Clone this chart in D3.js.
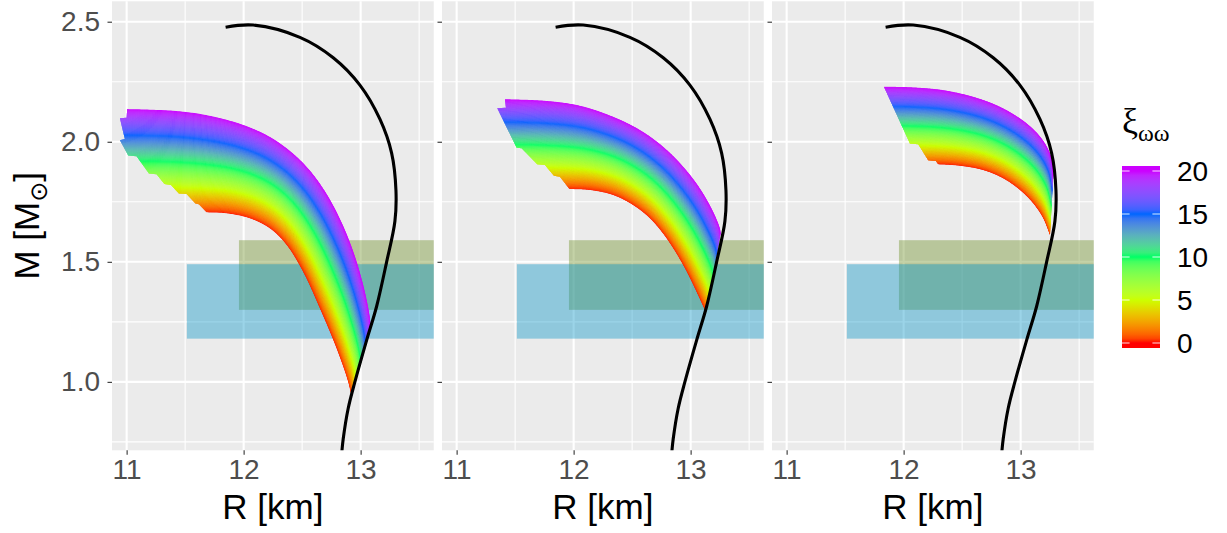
<!DOCTYPE html>
<html>
<head>
<meta charset="utf-8">
<style>
body { margin: 0; background: #fff; }
svg { display: block; }
</style>
</head>
<body>
<svg width="1227" height="533" font-family="'Liberation Sans', Arial, Helvetica, sans-serif"></svg>
<script src="https://d3js.org/d3.v7.min.js"></script>
<script>

// ---- data ----
var rTicks = [11, 12, 13], rMinor = [11.5, 12.5, 13.5];
var mTicks = [1.0, 1.5, 2.0, 2.5], mMinor = [0.75, 1.25, 1.75, 2.25];
var rLimits = [11, 13.5], mLimits = [0.8, 2.5];

// black M-R curve (same in every panel)
var eosR = [11.846, 12.082, 12.481, 12.766, 12.994, 13.165, 13.265, 13.302, 13.293, 13.222, 13.137, 13.051, 12.951, 12.894, 12.851, 12.838];
var eosM = [2.477, 2.486, 2.435, 2.350, 2.236, 2.094, 1.953, 1.797, 1.669, 1.499, 1.315, 1.173, 1.000, 0.890, 0.762, 0.700];

// constraint boxes: [R min, M min, M max], R max = Inf
var boxR = [11.96, 11.515];
var boxM = [[1.30, 1.59], [1.18, 1.49]];
var boxFill = ["#6B8E23", "#0593C5"];

// rainbow bands: upper edge (xi = 20), lower edge (xi = 0), stepped left edge
var upper1 = [[11.005,2.136],[11.427,2.128],[11.712,2.108],[11.997,2.070],[12.225,2.020],[12.413,1.955],[12.567,1.880],[12.704,1.787],[12.824,1.678],[12.926,1.558],[13.011,1.424],[13.071,1.291],[13.088,1.224]];
var lower1 = [[11.684,1.706],[11.855,1.702],[12.054,1.681],[12.225,1.639],[12.368,1.570],[12.509,1.458],[12.652,1.306],[12.795,1.139],[12.894,1.000],[12.923,0.9375]];
var steps1 = [[11.005,2.136],[11.0,2.100],[10.943,2.0975],[10.985,2.011],[10.943,2.006],[11.014,1.943],[11.085,1.940],[11.191,1.868],[11.256,1.865],[11.323,1.824],[11.379,1.820],[11.447,1.785],[11.513,1.782],[11.588,1.743],[11.618,1.740],[11.684,1.706]];

var upper2 = [[11.413,2.177],[11.769,2.170],[12.054,2.150],[12.338,2.104],[12.567,2.049],[12.766,1.979],[12.937,1.896],[13.079,1.806],[13.193,1.708],[13.250,1.639],[13.256,1.618]];
var lower2 = [[11.968,1.803],[12.139,1.799],[12.338,1.778],[12.509,1.736],[12.652,1.681],[12.795,1.5975],[12.937,1.486],[13.051,1.375],[13.131,1.289]];
var steps2 = [[11.413,2.177],[11.422,2.142],[11.348,2.140],[11.513,1.975],[11.556,1.973],[11.689,1.906],[11.755,1.903],[11.832,1.858],[11.883,1.854],[11.963,1.804],[11.968,1.803]];

var upper3 = [[11.832,2.229],[12.054,2.227],[12.338,2.215],[12.624,2.183],[12.851,2.139],[13.051,2.077],[13.179,2.014],[13.250,1.952],[13.274,1.903],[13.279,1.861]];
var lower3 = [[12.296,1.906],[12.481,1.900],[12.680,1.882],[12.851,1.8475],[12.994,1.799],[13.108,1.743],[13.194,1.681],[13.251,1.611]];
var steps3 = [[11.832,2.229],[12.054,1.993],[12.125,1.990],[12.210,1.923],[12.276,1.920],[12.296,1.906]];

var xiBreaks = [0, 5, 10, 15, 20];
var xiColors = ["#FF0000", "#CCFF00", "#00FF66", "#0066FF", "#CC00FF"];

// ---- layout ----
var svg = d3.select("svg");
var panelLeft = [112, 442, 772], panelW = 321.75, panelTop = 1.3, panelBottom = 450.3;
var tickFont = 28, titleFont = 35;

var rPad = (rLimits[1] - rLimits[0]) * 0.05, mPad = (mLimits[1] - mLimits[0]) * 0.05;
var y = d3.scaleLinear().domain([mLimits[0] - mPad, mLimits[1] + mPad]).range([panelBottom, panelTop]);

var colour = d3.scaleLinear().domain(xiBreaks).range(xiColors).interpolate(d3.interpolateLab).clamp(true);

var smooth = d3.line().curve(d3.curveCatmullRom.alpha(0.5));

function sample(g, pts, n) {
  var p = g.append("path").attr("d", smooth(pts)).attr("fill", "none");
  var node = p.node(), len = node.getTotalLength();
  var out = d3.range(n + 1).map(function(i) {
    var q = node.getPointAtLength(len * i / n);
    return [q.x, q.y];
  });
  p.remove();
  return out;
}

var bands = [[upper1, lower1, steps1], [upper2, lower2, steps2], [upper3, lower3, steps3]];
var eos = eosR.map(function(r, i) { return [r, eosM[i]]; });

bands.forEach(function(band, i) {
  var x = d3.scaleLinear().domain([rLimits[0] - rPad, rLimits[1] + rPad]).range([panelLeft[i], panelLeft[i] + panelW]);
  var right = panelLeft[i] + panelW;
  var g = svg.append("g");

  svg.append("clipPath").attr("id", "panel-" + i)
    .append("rect").attr("x", panelLeft[i]).attr("y", panelTop)
    .attr("width", panelW).attr("height", panelBottom - panelTop);

  g.append("rect").attr("x", panelLeft[i]).attr("y", panelTop)
    .attr("width", panelW).attr("height", panelBottom - panelTop).attr("fill", "#EBEBEB");

  g.selectAll(".vmin").data(rMinor).join("line").attr("class", "vmin")
    .attr("x1", x).attr("x2", x).attr("y1", panelTop).attr("y2", panelBottom)
    .attr("stroke", "#fff").attr("stroke-width", 1.1);
  g.selectAll(".hmin").data(mMinor).join("line").attr("class", "hmin")
    .attr("y1", y).attr("y2", y).attr("x1", panelLeft[i]).attr("x2", right)
    .attr("stroke", "#fff").attr("stroke-width", 1.1);
  g.selectAll(".vmaj").data(rTicks).join("line").attr("class", "vmaj")
    .attr("x1", x).attr("x2", x).attr("y1", panelTop).attr("y2", panelBottom)
    .attr("stroke", "#fff").attr("stroke-width", 2.1);
  g.selectAll(".hmaj").data(mTicks).join("line").attr("class", "hmaj")
    .attr("y1", y).attr("y2", y).attr("x1", panelLeft[i]).attr("x2", right)
    .attr("stroke", "#fff").attr("stroke-width", 2.1);

  // boxes
  g.selectAll(".box").data(boxR).join("rect").attr("class", "box")
    .attr("x", function(d) { return x(d); })
    .attr("width", function(d) { return right - x(d); })
    .attr("y", function(d, j) { return y(boxM[j][1]); })
    .attr("height", function(d, j) { return y(boxM[j][0]) - y(boxM[j][1]); })
    .attr("fill", function(d, j) { return boxFill[j]; })
    .attr("fill-opacity", 0.4);

  // rainbow band
  var px = function(d) { return [x(d[0]), y(d[1])]; };
  var up = band[0].map(px), lo = band[1].map(px), st = band[2].map(px);
  var x0 = d3.min(st, function(d) { return d[0]; }) - 6;
  var n = 220;
  var U = sample(g, [[x0, up[0][1]]].concat(up), n);
  var L = sample(g, [[x0, lo[0][1]]].concat(lo), n);
  var outline = st.concat(sample(g, lo, n), sample(g, up, n).reverse());
  svg.append("clipPath").attr("id", "band-" + i)
    .append("path").attr("d", "M" + outline.join("L") + "Z");

  var blend = function(f) {
    return U.map(function(u, k) {
      return [L[k][0] + (u[0] - L[k][0]) * f, L[k][1] + (u[1] - L[k][1]) * f];
    });
  };
  var strips = 100;
  g.append("g").attr("clip-path", "url(#band-" + i + ")")
    .selectAll("path").data(d3.range(strips)).join("path")
    .attr("d", function(k) {
      var a = blend(k / strips), b = blend((k + 1) / strips).reverse();
      return "M" + a.concat(b).join("L") + "Z";
    })
    .attr("fill", function(k) { return colour(20 * (k + 0.5) / strips); })
    .attr("stroke", function(k) { return colour(20 * (k + 0.5) / strips); })
    .attr("stroke-width", 0.7);

  // black curve
  g.append("path").attr("clip-path", "url(#panel-" + i + ")")
    .attr("d", d3.line().x(function(d) { return x(d[0]); }).y(function(d) { return y(d[1]); }).curve(d3.curveCatmullRom)(eos))
    .attr("fill", "none").attr("stroke", "#000").attr("stroke-width", 3.1);

  // axes
  var ax = svg.append("g").attr("transform", "translate(0," + panelBottom + ")")
    .call(d3.axisBottom(x).tickValues(rTicks).tickSize(4.5).tickPadding(4.3).tickFormat(d3.format("d")));
  ax.attr("font-size", tickFont).attr("font-family", null);
  ax.select(".domain").remove();
  ax.selectAll("line").attr("stroke", "#333").attr("stroke-width", 1.1);
  ax.selectAll("text").attr("fill", "#4D4D4D");

  var ay = svg.append("g").attr("transform", "translate(" + panelLeft[i] + ",0)")
    .call(d3.axisLeft(y).tickValues(mTicks).tickSize(4.5).tickPadding(7.5)
      .tickFormat(i === 0 ? d3.format(".1f") : function() { return ""; }));
  ay.attr("font-size", tickFont).attr("font-family", null);
  ay.select(".domain").remove();
  ay.selectAll("line").attr("stroke", "#333").attr("stroke-width", 1.1);
  ay.selectAll("text").attr("fill", "#4D4D4D");

  svg.append("text").attr("x", panelLeft[i] + panelW / 2).attr("y", 519)
    .attr("text-anchor", "middle").attr("font-size", titleFont).attr("fill", "#000")
    .text("R [km]");
});

// y title
var yt = svg.append("text")
  .attr("transform", "translate(39," + ((panelTop + panelBottom) / 2) + ") rotate(-90)")
  .attr("text-anchor", "middle").attr("font-size", titleFont).attr("fill", "#000");
yt.append("tspan").text("M [M");
yt.append("tspan").attr("font-size", 24).attr("dy", 8).attr("font-family", "'DejaVu Sans'").text("\u2299");
yt.append("tspan").attr("dy", -8).text("]");

// legend
var legY = d3.scaleLinear().domain([0, 20]).range([343, 171]);
var barTop = 166, barBottom = 348, barX = 1122, barW = 38;
var grad = svg.append("defs").append("linearGradient").attr("id", "xi-grad")
  .attr("x1", 0).attr("y1", 1).attr("x2", 0).attr("y2", 0);
grad.selectAll("stop").data(d3.range(0, 20.01, 0.5)).join("stop")
  .attr("offset", function(v) { return (barBottom - legY(v)) / (barBottom - barTop); })
  .attr("stop-color", colour);
svg.append("rect").attr("x", barX).attr("y", barTop).attr("width", barW)
  .attr("height", barBottom - barTop).attr("fill", "url(#xi-grad)");

var lg = svg.append("g");
lg.selectAll(".lt1").data(xiBreaks).join("line").attr("class", "lt1")
  .attr("x1", barX).attr("x2", barX + 7.6).attr("y1", legY).attr("y2", legY)
  .attr("stroke", "#fff").attr("stroke-opacity", 0.8).attr("stroke-width", 1.1);
lg.selectAll(".lt2").data(xiBreaks).join("line").attr("class", "lt2")
  .attr("x1", barX + barW - 7.6).attr("x2", barX + barW).attr("y1", legY).attr("y2", legY)
  .attr("stroke", "#fff").attr("stroke-opacity", 0.8).attr("stroke-width", 1.1);
lg.selectAll("text").data(xiBreaks).join("text")
  .attr("x", 1177).attr("y", legY).attr("dy", "0.35em")
  .attr("font-size", tickFont).attr("fill", "#000").text(function(d) { return d; });

var lt = svg.append("text").attr("x", 1122).attr("y", 133)
  .attr("font-family", "'Liberation Serif', 'DejaVu Serif', serif").attr("font-size", 36).attr("fill", "#000");
lt.append("tspan").text("\u03BE");
lt.append("tspan").attr("font-size", 24).attr("dy", 8).text("\u03C9\u03C9");

</script>
</body>
</html>
